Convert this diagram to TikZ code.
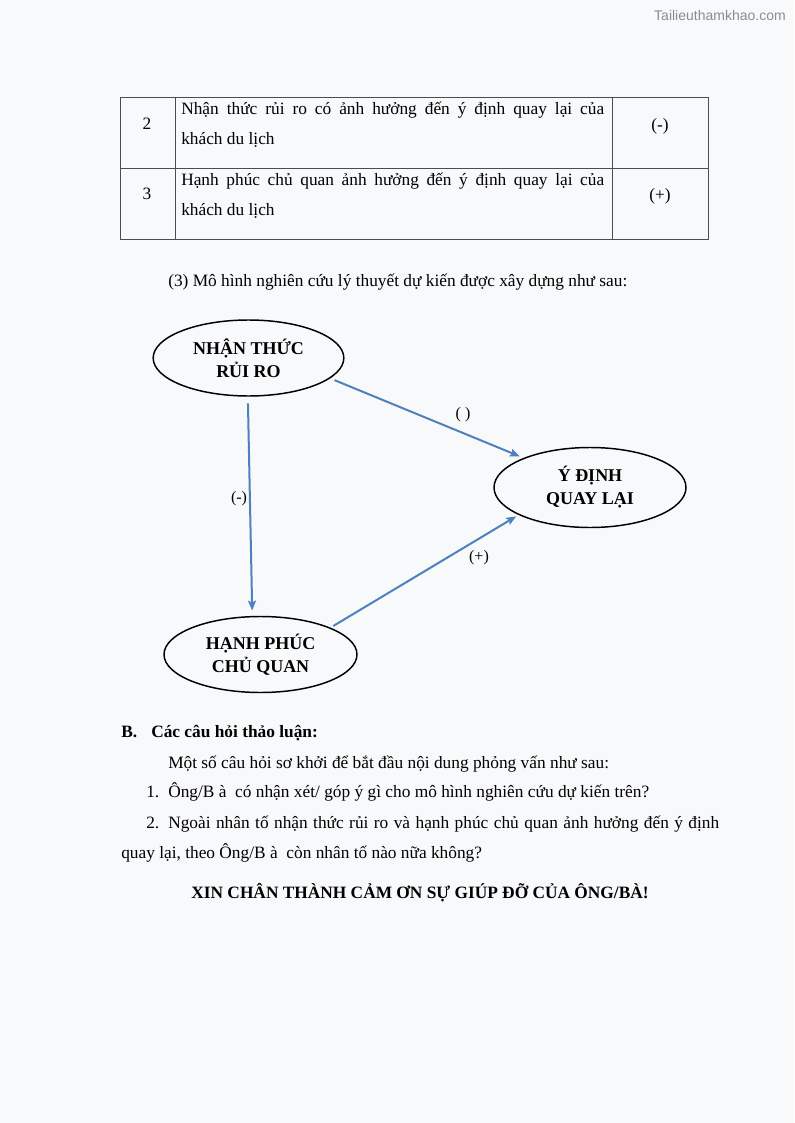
\documentclass[tikz,border=0pt]{standalone}
\usepackage{fontspec}
\setmainfont{Liberation Serif}
\newfontfamily\wmfont{Liberation Sans}
\usetikzlibrary{shapes.geometric,arrows.meta}
\definecolor{bgcol}{RGB}{248,249,251}
\definecolor{arrowblue}{RGB}{79,129,189}
\newcommand\txtsz{\fontsize{13pt}{16pt}\selectfont}
\tikzset{
  tbl/.style={draw=black!70,line width=0.7pt},
  txt/.style={inner sep=0pt,anchor=base,font=\txtsz},
  txtl/.style={inner sep=0pt,anchor=base west,font=\txtsz},
  bold/.style={inner sep=0pt,anchor=base west,font=\txtsz\bfseries},
  concept/.style={ellipse,draw=black,line width=1.1pt,inner sep=0pt,
    minimum width=143pt,minimum height=57pt,align=center,
    font=\fontsize{13.5pt}{17.25pt}\selectfont\bfseries},
  link/.style={draw=arrowblue,line width=1.5pt,-{Stealth[length=7.5pt,width=6pt,inset=1.5pt]}},
  lbl/.style={inner sep=0pt,font=\fontsize{12pt}{14pt}\selectfont}
}
\begin{document}
\begin{tikzpicture}[x=0.75pt,y=-0.75pt]
\fill[bgcol] (0,0) rectangle (794,1123);
\useasboundingbox (0,0) rectangle (794,1123);

% watermark
\node[inner sep=0pt,anchor=east,font=\wmfont\fontsize{10.5pt}{12pt}\selectfont,text=black!45] (wm) at (786,15) {Tailieuthamkhao.com};

% table
\draw[tbl] (120,97) rectangle (708,239);
\draw[tbl] (175,97) -- (175,239);
\draw[tbl] (612,97) -- (612,239);
\draw[tbl] (120,168) -- (708,168);
\node[txt] (r2n) at (147,130) {2};
\node[txtl] (r2a) at (181,115) {\makebox[317.25pt][s]{Nhận thức rủi ro có ảnh hưởng đến ý định quay lại của}};
\node[txtl] (r2b) at (181,145) {khách du lịch};
\node[txt] (r2s) at (660,131) {(-)};
\node[txt] (r3n) at (147,200) {3};
\node[txtl] (r3a) at (181,186) {\makebox[317.25pt][s]{Hạnh phúc chủ quan ảnh hưởng đến ý định quay lại của}};
\node[txtl] (r3b) at (181,216) {khách du lịch};
\node[txt] (r3s) at (660,201) {(+)};

% caption
\node[txtl] (cap) at (168,286) {(3) Mô hình nghiên cứu lý thuyết dự kiến được xây dựng như sau:};

% diagram
\node[concept] (n1) at (248.5,358) {NHẬN THỨC\\RỦI RO};
\node[concept,minimum width=144pt,minimum height=60pt] (n2) at (590,487.5) {Ý ĐỊNH\\QUAY LẠI};
\node[concept,minimum width=144.75pt] (n3) at (260.5,654.5) {HẠNH PHÚC\\CHỦ QUAN};

\draw[link,shorten <=3.5pt,shorten >=3pt] (n1.-14.5) -- (n2.156.4);
\draw[link,shorten <=5pt,shorten >=4pt] (n1.-91) -- (n3.102);
\draw[link,shorten <=2.5pt,shorten >=2pt] (n3.21.5) -- (n2.201.9);

\node[lbl] (l1) at (463,415) {( )};
\node[lbl] (l2) at (239,499) {(-)};
\node[lbl] (l3) at (479,558) {(+)};

% section B
\node[bold] (bB) at (121,737) {B.};
\node[bold] (bT) at (151,737) {Các câu hỏi thảo luận:};
\node[txtl] (p1) at (168,768) {Một số câu hỏi sơ khởi để bắt đầu nội dung phỏng vấn như sau:};
\node[txtl] (q1n) at (146,797) {1.};
\node[txtl] (q1) at (168,797) {Ông/B à\ \ có nhận xét/ góp ý gì cho mô hình nghiên cứu dự kiến trên?};
\node[txtl] (q2n) at (146,828) {2.};
\node[txtl] (q2) at (168,828) {\makebox[413.25pt][s]{Ngoài nhân tố nhận thức rủi ro và hạnh phúc chủ quan ảnh hưởng đến ý định}};
\node[txtl] (q2b) at (121,858) {quay lại, theo Ông/B à\ \ còn nhân tố nào nữa không?};
\node[inner sep=0pt,anchor=base,font=\txtsz\bfseries] (end) at (420,898) {XIN CHÂN THÀNH CẢM ƠN SỰ GIÚP ĐỠ CỦA ÔNG/BÀ!};
\end{tikzpicture}
\end{document}
